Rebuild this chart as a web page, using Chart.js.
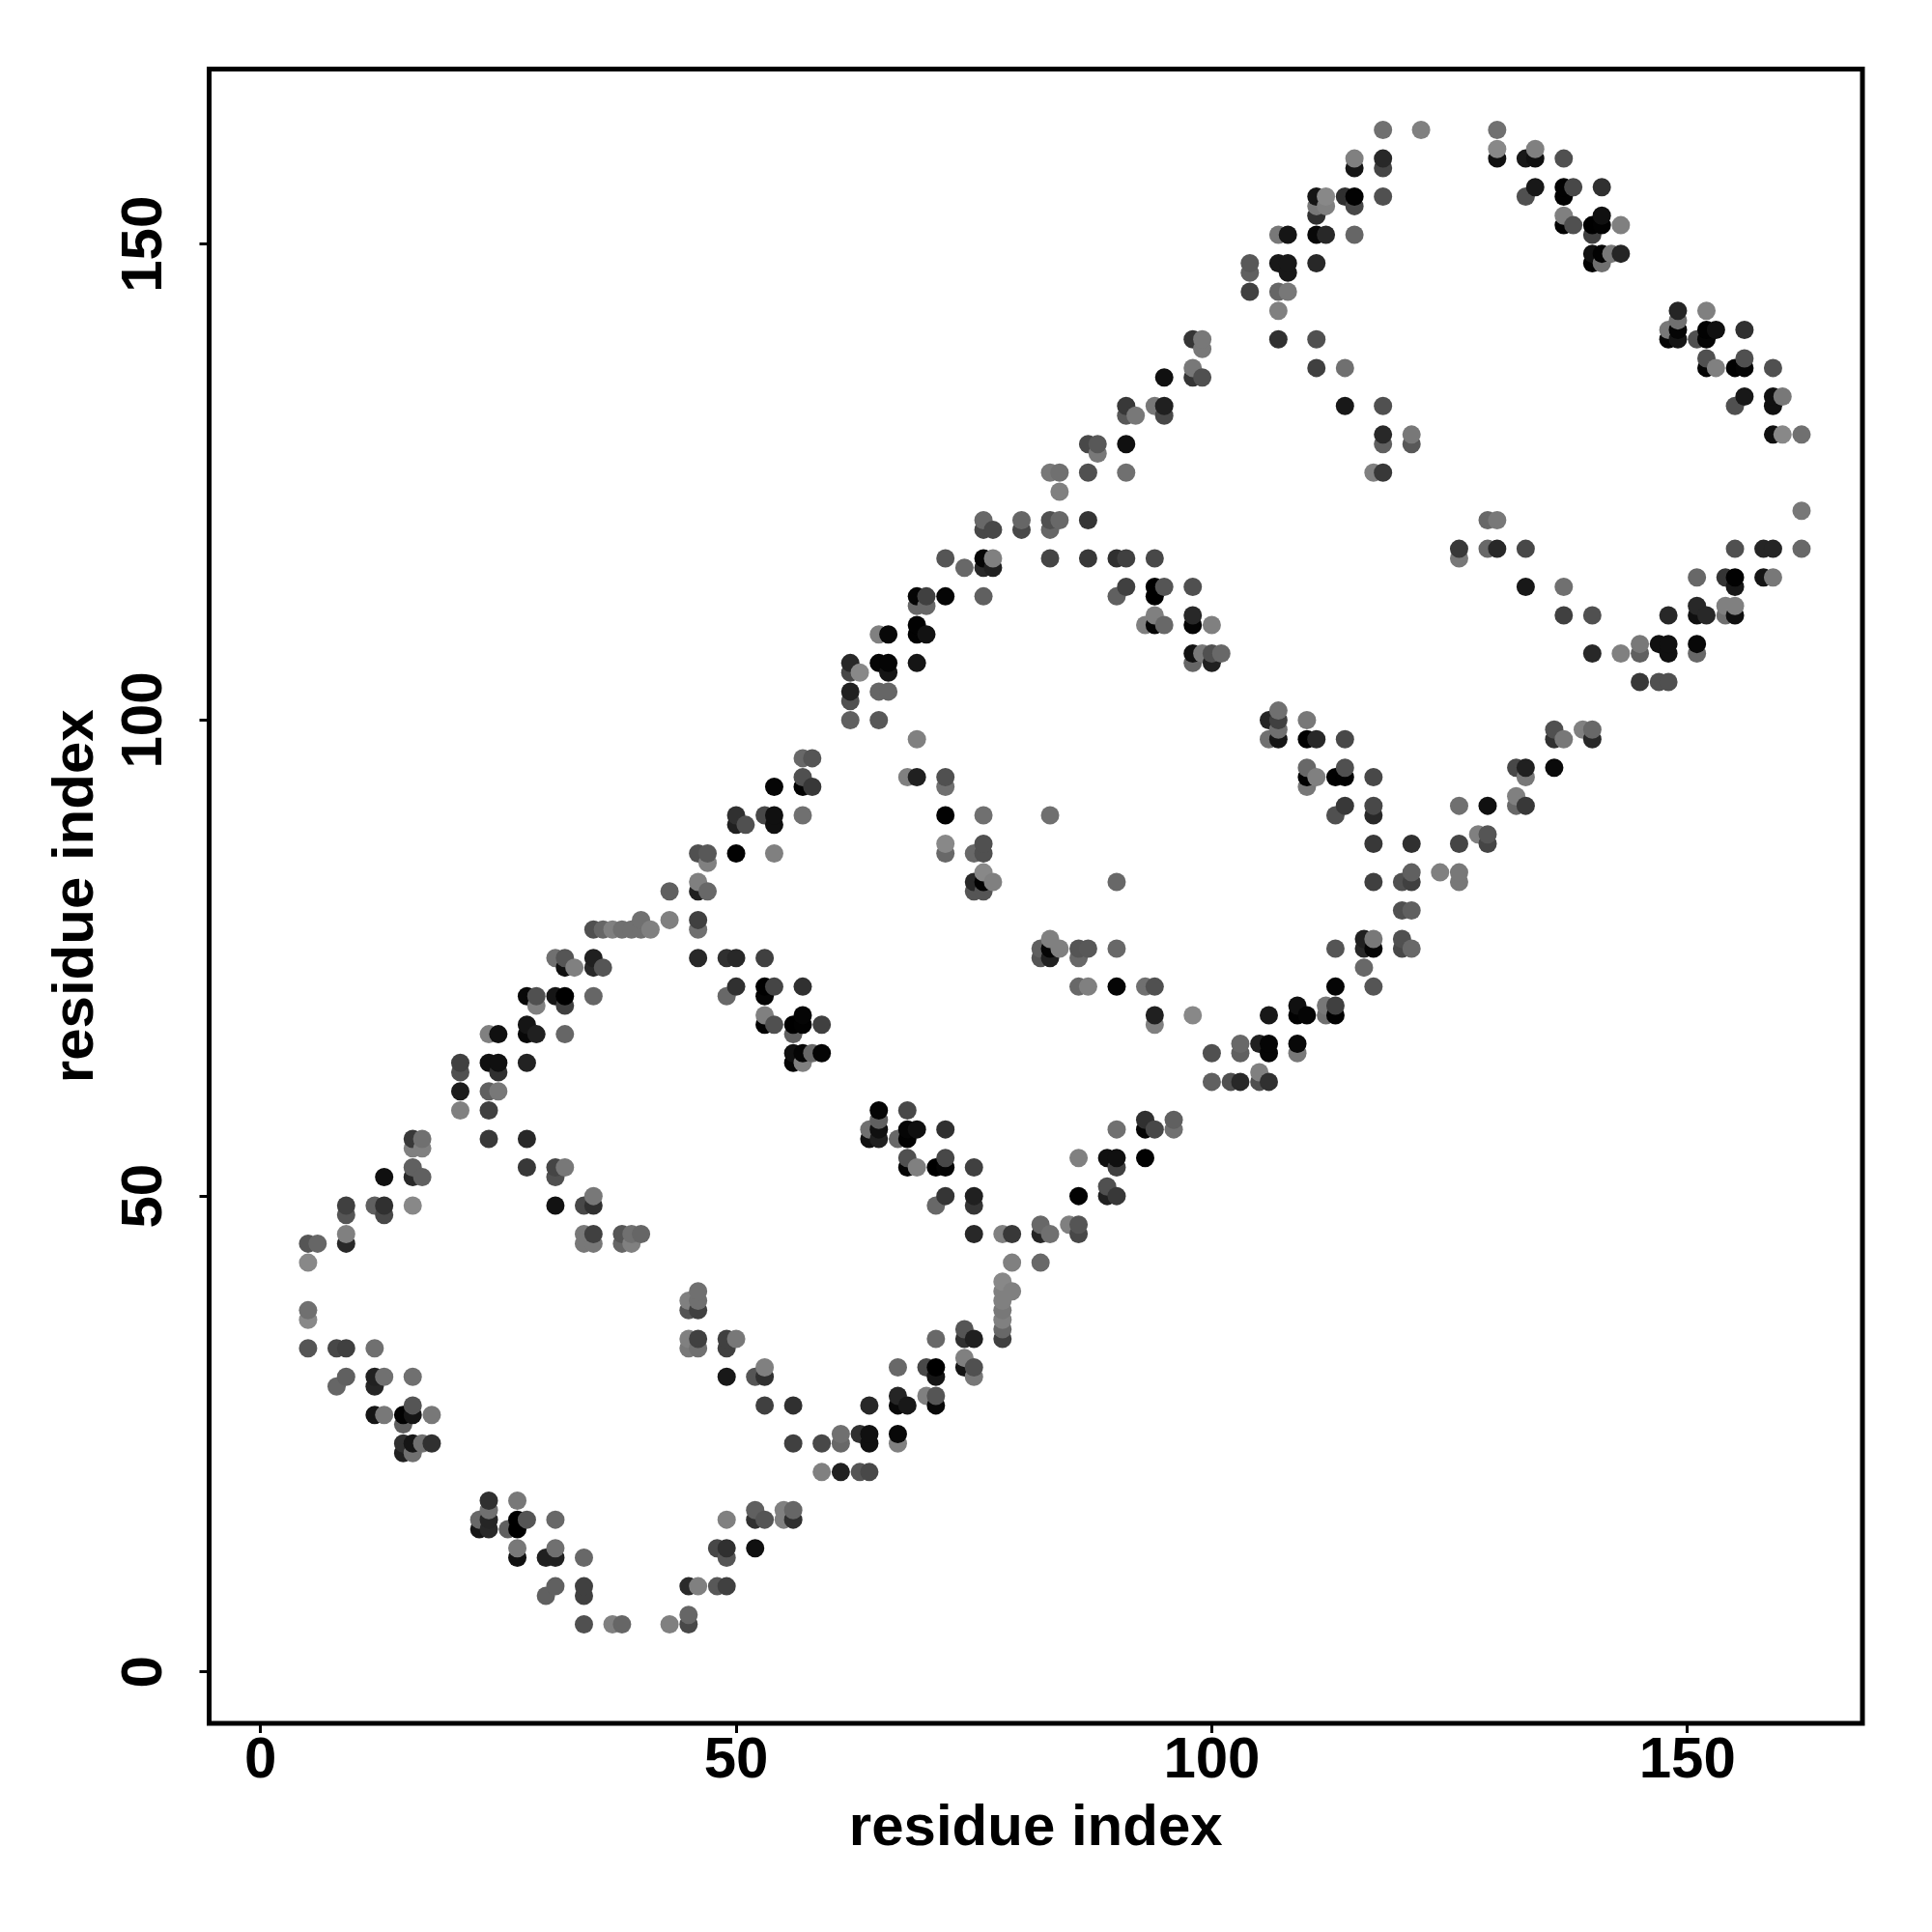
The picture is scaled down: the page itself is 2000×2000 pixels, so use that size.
<!DOCTYPE html>
<html>
<head>
<meta charset="utf-8">
<title>residue contacts</title>
<script src="https://cdn.jsdelivr.net/npm/chart.js@4"></script>
<style>
    body { margin: 0; background: #fff; }
    canvas { display: block; }
</style>
</head>
<body>
<canvas id="contactChart" width="2000" height="2000"></canvas>
<script>
// one line per row of the map, same layout in all three arrays
const residueY = [
    5,5,5,5,5,
    6,
    8,8,
    9,9,9,9,9,9,
    12,12,12,12,12,
    13,13,13,13,13,
    15,15,15,15,
    16,16,16,16,16,16,16,16,16,16,
    17,17,17,17,
    18,18,
    21,21,21,21,
    23,23,
    24,24,24,24,24,24,24,24,24,
    25,25,25,25,
    26,
    27,27,27,27,27,
    28,28,28,28,28,28,28,
    29,29,29,
    30,30,
    31,31,31,31,31,31,31,31,31,
    32,32,32,32,32,32,
    33,
    34,34,34,34,34,34,34,
    35,35,35,35,35,35,35,35,
    36,36,
    37,37,
    38,38,38,38,
    39,39,39,
    40,40,40,
    41,
    43,43,43,
    45,45,45,45,45,45,45,
    46,46,46,46,46,46,46,46,46,46,46,46,
    47,47,47,
    48,48,
    49,49,49,49,49,49,49,49,49,
    50,50,50,50,50,50,
    51,
    52,52,52,52,
    53,53,53,53,53,53,53,53,53,53,
    54,54,54,54,54,54,
    55,55,
    56,56,56,56,56,56,56,56,
    57,57,57,57,57,57,57,57,57,
    58,58,58,
    59,59,59,59,
    61,61,61,
    62,62,62,62,62,
    63,63,63,
    64,64,64,64,64,64,
    65,65,65,65,65,65,65,65,
    66,66,66,66,
    67,67,67,67,67,67,
    68,68,68,68,68,68,68,
    69,69,69,69,69,69,69,69,69,
    70,70,70,70,70,
    71,71,71,71,71,71,71,
    72,72,72,72,72,72,72,72,72,72,72,
    74,74,74,74,74,
    75,75,75,75,75,75,75,75,75,75,
    76,76,76,76,76,76,76,76,76,76,76,
    77,77,77,77,
    78,78,78,78,78,78,78,78,
    79,79,79,
    80,80,
    82,82,82,82,82,
    83,83,83,83,83,83,83,83,83,
    84,84,84,84,
    85,
    86,86,86,86,86,86,86,
    87,87,87,87,87,87,
    88,88,
    89,89,89,
    90,90,90,90,90,90,90,90,90,
    91,91,91,91,91,91,
    92,
    93,93,93,93,93,
    94,94,94,94,94,94,94,94,94,94,
    95,95,95,95,95,
    96,96,
    98,98,98,98,98,98,98,98,98,
    99,99,99,99,
    100,100,100,100,100,
    101,
    102,
    103,103,103,
    104,104,104,
    105,105,105,
    106,106,106,106,106,106,
    107,107,107,107,107,107,107,107,107,
    108,108,108,108,
    109,109,109,109,
    110,110,110,110,110,110,
    111,111,111,111,111,111,111,111,111,
    112,112,112,112,112,
    113,113,113,113,113,113,
    114,114,114,114,114,114,114,
    115,115,115,115,115,
    116,116,116,
    117,117,117,117,117,117,117,117,117,
    118,118,118,118,118,118,118,118,
    120,120,120,120,
    121,121,121,121,121,121,121,
    122,
    124,
    126,126,126,126,126,126,
    128,
    129,129,129,129,129,
    130,130,130,130,130,
    132,132,132,
    133,133,133,133,133,133,133,
    134,134,134,
    136,136,136,
    137,137,137,137,137,137,137,137,
    138,138,
    139,
    140,140,140,140,140,140,140,140,
    141,141,141,141,141,
    142,
    143,143,143,
    145,145,145,
    147,147,
    148,148,148,148,148,148,
    149,149,149,149,
    151,151,151,151,151,151,
    152,152,152,152,152,
    153,153,153,
    154,154,154,
    155,155,155,155,155,155,155,
    156,156,156,156,
    158,158,
    159,159,159,159,159,159,
    160,160,
    162,162,162
];
const residueX = [
    34,37,38,43,45,
    45,
    30,34,
    31,34,45,46,48,49,
    27,30,31,34,49,
    27,31,48,49,52,
    23,24,26,27,
    23,24,27,28,31,49,52,53,55,56,
    24,52,55,56,
    24,27,
    59,61,63,64,
    15,16,
    15,16,17,18,56,59,61,64,67,
    61,63,64,67,
    15,
    12,13,15,16,18,
    16,53,56,64,67,68,71,
    67,70,71,
    8,12,
    9,12,13,16,49,52,53,71,75,
    53,67,70,71,74,75,
    74,
    5,8,9,12,45,46,49,
    45,46,49,50,71,74,75,78,
    74,78,
    5,78,
    5,45,46,78,
    45,46,78,
    46,78,79,
    78,
    5,79,82,
    5,6,9,34,35,38,39,
    9,34,35,38,39,40,75,78,79,82,83,86,
    82,85,86,
    9,13,
    9,12,13,16,31,34,35,71,75,
    35,72,75,86,89,90,
    89,
    13,16,17,31,
    16,28,31,32,68,69,71,72,75,90,
    68,72,86,89,90,93,
    16,17,
    16,17,24,28,64,65,67,68,
    64,65,68,69,72,90,93,94,96,
    65,93,96,
    21,24,65,68,
    21,24,25,
    100,102,103,105,106,
    21,25,105,
    21,24,25,28,56,57,
    56,57,58,59,100,103,106,109,
    103,105,106,109,
    24,25,28,29,32,56,
    28,53,54,56,57,59,94,
    53,57,94,98,106,109,110,112,113,
    29,32,109,112,113,
    28,29,31,32,35,49,53,
    50,53,54,57,86,87,90,93,94,113,117,
    32,33,35,36,116,
    31,32,35,46,49,50,53,82,83,86,
    82,83,84,86,87,90,113,116,117,120,121,
    83,116,117,120,
    35,36,37,38,39,40,41,46,
    40,43,46,
    120,121,
    43,46,47,75,76,
    46,75,76,77,90,117,120,121,126,
    76,121,124,126,
    47,
    46,47,50,54,72,75,76,
    72,76,117,121,126,129,
    128,129,
    50,51,54,
    50,53,54,57,72,76,83,113,117,
    114,117,126,129,132,133,
    132,
    54,57,58,72,110,
    57,68,69,72,110,111,113,114,117,133,
    110,114,132,133,136,
    57,58,
    69,106,107,110,111,114,136,137,140,
    107,136,139,140,
    62,65,106,107,110,
    107,
    62,
    62,65,66,
    145,147,148,
    62,63,66,
    62,65,66,69,98,100,
    98,99,100,101,140,143,145,148,151,
    145,147,148,151,
    65,66,69,70,
    69,93,94,95,98,100,
    94,98,137,140,148,151,152,154,155,
    69,70,151,154,155,
    69,70,72,76,90,94,
    91,94,95,98,133,137,155,
    151,154,155,158,159,
    74,76,77,
    72,76,77,83,87,90,91,94,126,
    126,129,130,133,155,158,159,162,
    76,77,80,83,
    76,80,83,84,87,129,130,
    162,
    84,
    83,84,87,91,117,118,
    88,
    87,88,91,118,121,
    118,121,159,160,162,
    91,92,95,
    91,94,95,114,118,155,159,
    156,159,160,
    95,98,99,
    98,111,114,152,153,155,156,159,
    152,156,
    99,
    98,99,107,111,148,149,151,152,
    148,149,152,153,156,
    149,
    107,149,152,
    104,107,108,
    104,108,
    104,107,108,111,140,141,
    140,141,142,143,
    107,108,111,112,115,140,
    137,138,140,141,143,
    111,137,141,
    111,112,115,
    111,112,114,115,118,133,137,
    134,137,138,141,
    115,118,
    115,118,130,133,134,137,
    130,134,
    118,122,130
];
const greyLevel = [
    0x50,0x80,0x66,0x80,0x48,
    0x66,
    0x60,0x40,
    0x60,0x40,0x2a,0x80,0x58,0x40,
    0x10,0x20,0x20,0x68,0x55,
    0x78,0x70,0x48,0x30,0x10,
    0x15,0x28,0x60,0x00,
    0x68,0x25,0x00,0x55,0x68,0x80,0x30,0x55,0x80,0x30,
    0x70,0x60,0x80,0x66,
    0x30,0x78,
    0x80,0x20,0x55,0x48,
    0x20,0x70,
    0x30,0x15,0x70,0x30,0x40,0x48,0x68,0x10,0x80,
    0x70,0x30,0x10,0x08,
    0x60,
    0x15,0x78,0x02,0x15,0x78,
    0x55,0x40,0x30,0x28,0x08,0x18,0x08,
    0x25,0x80,0x55,
    0x66,0x25,
    0x60,0x20,0x70,0x70,0x18,0x55,0x30,0x15,0x78,
    0x80,0x68,0x48,0x00,0x15,0x50,
    0x80,
    0x55,0x48,0x40,0x70,0x78,0x70,0x40,
    0x80,0x40,0x40,0x78,0x68,0x30,0x20,0x40,
    0x55,0x68,
    0x88,0x80,
    0x70,0x55,0x40,0x78,
    0x80,0x70,0x80,
    0x70,0x80,0x80,
    0x88,
    0x88,0x80,0x68,
    0x55,0x66,0x28,0x78,0x78,0x66,0x80,
    0x80,0x78,0x40,0x55,0x70,0x66,0x28,0x80,0x38,0x25,0x70,0x48,
    0x68,0x80,0x55,
    0x55,0x48,
    0x40,0x60,0x30,0x88,0x12,0x48,0x30,0x68,0x35,
    0x78,0x35,0x20,0x02,0x20,0x38,
    0x50,
    0x10,0x28,0x60,0x50,
    0x60,0x38,0x45,0x78,0x05,0x80,0x00,0x05,0x40,0x40,
    0x50,0x48,0x80,0x10,0x10,0x02,
    0x80,0x80,
    0x38,0x70,0x38,0x28,0x10,0x20,0x68,0x02,
    0x70,0x10,0x05,0x10,0x30,0x70,0x05,0x48,0x70,
    0x60,0x30,0x60,
    0x80,0x40,0x05,0x48,
    0x1c,0x60,0x78,
    0x60,0x50,0x28,0x50,0x30,
    0x50,0x30,0x80,
    0x40,0x10,0x10,0x22,0x05,0x80,
    0x10,0x05,0x68,0x05,0x50,0x60,0x05,0x78,
    0x68,0x20,0x05,0x08,
    0x80,0x10,0x08,0x20,0x66,0x60,
    0x15,0x02,0x50,0x00,0x02,0x40,0x80,
    0x80,0x05,0x20,0x88,0x18,0x02,0x05,0x70,0x02,
    0x80,0x40,0x10,0x78,0x40,
    0x08,0x50,0x15,0x00,0x66,0x68,0x05,
    0x30,0x00,0x45,0x30,0x68,0x80,0x05,0x70,0x50,0x05,0x55,
    0x10,0x80,0x28,0x55,0x68,
    0x70,0x55,0x20,0x28,0x30,0x28,0x40,0x55,0x20,0x68,
    0x60,0x05,0x80,0x55,0x58,0x68,0x55,0x28,0x05,0x48,0x68,
    0x80,0x20,0x78,0x50,
    0x50,0x66,0x80,0x70,0x70,0x70,0x80,0x70,
    0x70,0x80,0x40,
    0x50,0x60,
    0x60,0x20,0x68,0x55,0x55,
    0x80,0x28,0x02,0x80,0x68,0x40,0x50,0x40,0x78,
    0x88,0x60,0x80,0x78,
    0x80,
    0x50,0x58,0x02,0x80,0x68,0x68,0x50,
    0x88,0x50,0x38,0x30,0x45,0x45,
    0x80,0x55,
    0x20,0x50,0x10,
    0x30,0x48,0x10,0x70,0x02,0x70,0x70,0x50,0x28,
    0x38,0x48,0x70,0x10,0x68,0x38,
    0x80,
    0x05,0x02,0x38,0x70,0x78,
    0x50,0x80,0x20,0x50,0x02,0x80,0x02,0x02,0x48,0x78,
    0x68,0x50,0x48,0x20,0x0a,
    0x68,0x55,
    0x80,0x70,0x15,0x02,0x28,0x48,0x30,0x78,0x28,
    0x70,0x50,0x80,0x68,
    0x60,0x58,0x25,0x40,0x78,
    0x70,
    0x50,
    0x20,0x66,0x66,
    0x38,0x50,0x50,
    0x48,0x88,0x15,
    0x28,0x05,0x05,0x15,0x66,0x20,
    0x10,0x78,0x50,0x68,0x28,0x80,0x60,0x10,0x68,
    0x78,0x10,0x10,0x08,
    0x80,0x08,0x02,0x12,
    0x02,0x80,0x05,0x68,0x05,0x80,
    0x80,0x28,0x40,0x50,0x28,0x10,0x28,0x70,0x10,
    0x68,0x68,0x28,0x80,0x80,
    0x05,0x40,0x05,0x60,0x60,0x00,
    0x40,0x00,0x55,0x50,0x18,0x70,0x18,
    0x68,0x35,0x02,0x15,0x78,
    0x68,0x28,0x20,
    0x55,0x05,0x80,0x45,0x38,0x30,0x40,0x48,0x78,
    0x38,0x68,0x28,0x48,0x50,0x25,0x25,0x68,
    0x48,0x48,0x48,0x66,
    0x68,0x66,0x50,0x68,0x35,0x68,0x78,
    0x78,
    0x80,
    0x78,0x70,0x50,0x70,0x80,0x38,
    0x78,
    0x48,0x58,0x10,0x60,0x58,
    0x28,0x78,0x10,0x88,0x70,
    0x58,0x78,0x48,
    0x38,0x78,0x20,0x18,0x50,0x50,0x10,
    0x18,0x10,0x78,
    0x10,0x35,0x50,
    0x78,0x40,0x70,0x05,0x80,0x02,0x05,0x50,
    0x50,0x50,
    0x78,
    0x35,0x78,0x30,0x50,0x05,0x15,0x50,0x05,
    0x78,0x05,0x02,0x10,0x30,
    0x70,
    0x80,0x25,0x80,
    0x40,0x66,0x78,
    0x60,0x18,
    0x58,0x18,0x18,0x28,0x02,0x70,
    0x10,0x02,0x78,0x25,
    0x78,0x15,0x08,0x28,0x66,0x40,
    0x02,0x50,0x00,0x02,0x80,
    0x30,0x80,0x10,
    0x78,0x80,0x48,
    0x15,0x88,0x30,0x02,0x50,0x50,0x02,
    0x18,0x02,0x48,0x30,
    0x15,0x45,
    0x80,0x28,0x10,0x18,0x10,0x50,
    0x88,0x80,
    0x70,0x80,0x70
];
const tickValues = [0, 50, 100, 150];
const axisTitle = 'residue index';

// later residues sit on top of earlier ones in the reference
const order = residueX.map((x, i) => i).sort((a, b) => residueX[a] - residueX[b] || residueY[a] - residueY[b]);

const points = order.map(i => ({ x: residueX[i], y: residueY[i] }));
const colours = order.map(i => `rgb(${greyLevel[i]},${greyLevel[i]},${greyLevel[i]})`);

const font = { family: '"Liberation Sans", Arial, sans-serif', size: 60, weight: 'bold' };

const boxBorder = {
    id: 'boxBorder',
    afterDraw(chart) {
        const { ctx, chartArea: a } = chart;
        ctx.save();
        ctx.strokeStyle = '#000';
        ctx.lineWidth = 5;
        ctx.strokeRect(a.left, a.top, a.right - a.left, a.bottom - a.top);
        ctx.restore();
    }
};

const setTicks = scale => { scale.ticks = tickValues.map(v => ({ value: v })); };

new Chart(document.getElementById('contactChart'), {
    type: 'scatter',
    data: {
        datasets: [{
            data: points,
            pointBackgroundColor: colours,
            pointBorderWidth: 0,
            pointRadius: 9.5
        }]
    },
    options: {
        responsive: false,
        animation: false,
        layout: { padding: { top: 71.5, right: 72, left: 0, bottom: 0 } },
        plugins: { legend: { display: false }, tooltip: { enabled: false } },
        scales: {
            x: {
                type: 'linear',
                min: -5.4,
                max: 168.4,
                afterBuildTicks: setTicks,
                afterFit(scale) { scale.height = 216; },
                border: { display: false },
                grid: { drawOnChartArea: false, tickLength: 10, tickWidth: 3, tickColor: '#000' },
                ticks: { color: '#000', font, padding: -7, maxRotation: 0, autoSkip: false },
                title: { display: true, text: axisTitle, color: '#000', font, padding: { top: 0, bottom: 70.5 } }
            },
            y: {
                type: 'linear',
                min: -5.4,
                max: 168.4,
                afterBuildTicks: setTicks,
                afterFit(scale) { scale.width = 216.5; },
                border: { display: false },
                grid: { drawOnChartArea: false, tickLength: 10, tickWidth: 3, tickColor: '#000' },
                ticks: { color: '#000', font, padding: 6, minRotation: 90, maxRotation: 90, crossAlign: 'center', autoSkip: false },
                title: { display: true, text: axisTitle, color: '#000', font, padding: { top: 43, bottom: 0 } }
            }
        }
    },
    plugins: [boxBorder]
});
</script>
</body>
</html>
